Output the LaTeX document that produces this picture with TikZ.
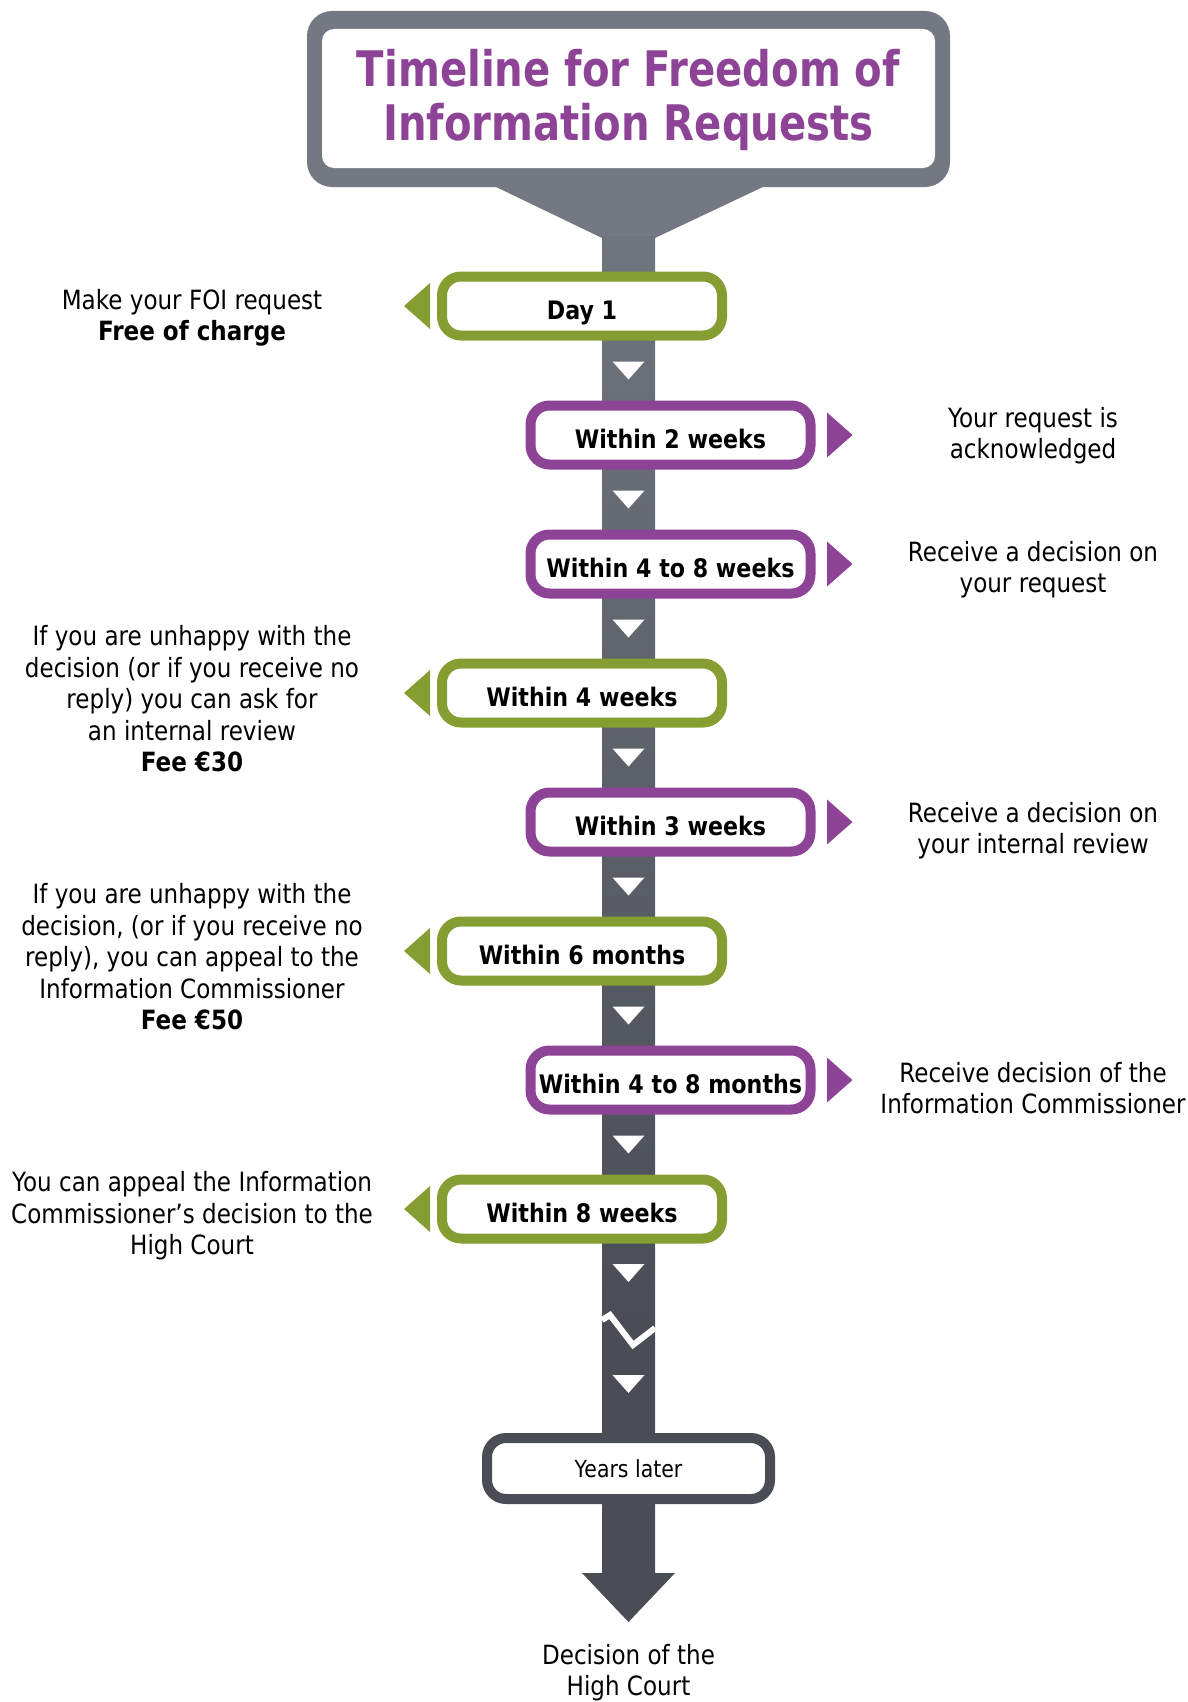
\documentclass[tikz,border=0pt]{standalone}
\usepackage{fontspec}
\setmainfont[FakeStretch=0.87]{DejaVu Sans}
\newfontfamily\titlefont[FakeStretch=0.82]{DejaVu Sans}
\usetikzlibrary{calc}
\definecolor{foigreen}{HTML}{869E31}
\definecolor{foipurple}{HTML}{8E4496}
\definecolor{foigray}{HTML}{747882}
\definecolor{foimid}{HTML}{70747D}
\definecolor{foidark}{HTML}{4A4D55}
\tikzset{
  stepgreen/.style={draw=foigreen, line width=10pt, fill=white, rounded corners=19pt,
    minimum width=280pt, minimum height=59pt, inner sep=0pt, text height=26pt, text depth=0pt,
    font=\fontsize{25.5}{30}\selectfont\bfseries},
  steppurple/.style={stepgreen, draw=foipurple},
  stepdark/.style={draw=foidark, line width=10pt, fill=white, rounded corners=19pt,
    minimum width=283pt, minimum height=61pt, inner sep=0pt, text height=17pt, text depth=0pt,
    font=\fontsize{23.5}{28}\selectfont},
  sidetext/.style={align=center, inner sep=0pt, text depth=0pt, anchor=south,
    font=\fontsize{26.5}{31.5}\selectfont},
  downmark/.style={fill=white},
}
\begin{document}
\begin{tikzpicture}[x=1pt,y=-1pt]
\useasboundingbox (0,0) rectangle (1187,1702);
% title sign
\fill[foigray, rounded corners=25pt] (307,11) rectangle (950,187);
\fill[foigray] (494,186) -- (765,186) -- (655,238) -- (602,238) -- cycle;
\node[fill=white, rounded corners=12pt, minimum width=613pt, minimum height=139pt, inner sep=0pt] (titlebox) at (628.5,98.5) {};
\node[anchor=south, align=center, inner sep=0pt, text depth=0pt, text=foipurple,
  font=\titlefont\bfseries\fontsize{49}{54}\selectfont] (title) at (628.5,141)
  {Timeline for Freedom of\\Information Requests};
% stem
\coordinate (stemtop) at (628.5,237);
\coordinate (stembot) at (628.5,1622);
\shade[top color=foimid, bottom color=foidark] (602,236) rectangle (655,1331);
\fill[foidark] (602,1330) -- (602,1573) -- (582,1573) -- (stembot) -- (675,1573) -- (655,1573) -- (655,1330) -- cycle;
\draw[white, line width=6pt] (602,1320) -- (610,1315) -- (633,1345) -- (655,1328);
\foreach \y in {370.5,499.5,628.5,757.5,886.5,1015.5,1144.5,1273,1384}
  {\fill[downmark] (612.5,\y-9) -- (644.5,\y-9) -- (628.5,\y+9) -- cycle;}
% steps
\node[stepgreen]  (d1)  at (582,306)    {Day 1};
\node[steppurple] (w2)  at (670.5,435)  {Within 2 weeks};
\node[steppurple] (w48) at (670.5,564)  {Within 4 to 8 weeks};
\node[stepgreen]  (w4)  at (582,693)    {Within 4 weeks};
\node[steppurple] (w3)  at (670.5,822)  {Within 3 weeks};
\node[stepgreen]  (m6)  at (582,951)    {Within 6 months};
\node[steppurple] (m48) at (670.5,1080) {Within 4 to 8 months};
\node[stepgreen]  (w8)  at (582,1209)   {Within 8 weeks};
\node[stepdark]   (yl)  at (628.5,1468.5) {Years later};
\foreach \n in {d1,w4,m6,w8}
  {\fill[foigreen] ($(\n.west)+(-7,-23)$) -- ($(\n.west)+(-7,23)$) -- ($(\n.west)+(-33,0)$) -- cycle;}
\foreach \n in {w2,w48,w3,m48}
  {\fill[foipurple] ($(\n.east)+(11.5,-22.5)$) -- ($(\n.east)+(11.5,22.5)$) -- ($(\n.east)+(37,0)$) -- cycle;}
% side texts
\node[sidetext] (l0) at (192,341) {Make your FOI request\\\textbf{Free of charge}};
\node[sidetext] (l1) at (192,772) {If you are unhappy with the\\decision (or if you receive no\\reply) you can ask for\\an internal review\\\textbf{Fee €30}};
\node[sidetext] (l2) at (192,1030) {If you are unhappy with the\\decision, (or if you receive no\\reply), you can appeal to the\\Information Commissioner\\\textbf{Fee €50}};
\node[sidetext] (l3) at (192,1255) {You can appeal the Information\\Commissioner’s decision to the\\High Court};
\node[sidetext] (r1) at (1033,459) {Your request is\\acknowledged};
\node[sidetext] (r2) at (1033,593) {Receive a decision on\\your request};
\node[sidetext] (r3) at (1033,854) {Receive a decision on\\your internal review};
\node[sidetext] (r4) at (1033,1114) {Receive decision of the\\Information Commissioner};
\node[sidetext] (hc) at (628.5,1696) {Decision of the\\High Court};
\end{tikzpicture}
\end{document}
